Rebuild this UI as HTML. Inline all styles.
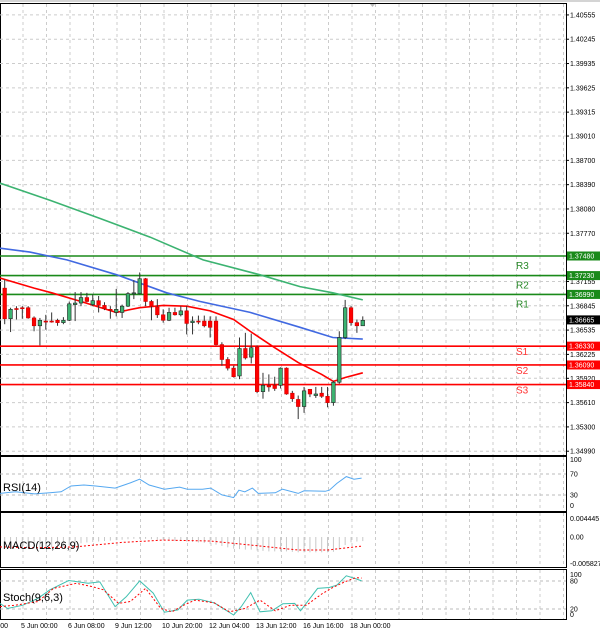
<!DOCTYPE html>
<html><head><meta charset="utf-8"><style>
body{margin:0;background:#fff;width:600px;height:635px;overflow:hidden}
svg{display:block;font-family:"Liberation Sans",sans-serif}
</style></head><body>
<svg id="c" width="600" height="635"></svg>
<script>
// ---- data ----
const priceTicks=[1.40555,1.40245,1.39935,1.39625,1.39315,1.39010,1.38700,1.38390,1.38080,1.37770,1.37155,1.36845,1.36535,1.36225,1.35920,1.35610,1.35300,1.34990];
const dateLabels=["-:00","5 Jun 00:00","6 Jun 08:00","9 Jun 12:00","10 Jun 20:00","12 Jun 04:00","13 Jun 12:00","16 Jun 16:00","18 Jun 00:00"];
const opens=[1.3707,1.3668,1.3681,1.3682,1.3682,1.3669,1.3659,1.3665,1.3665,1.3666,1.3663,1.3666,1.3686,1.3688,1.3695,1.3686,1.3691,1.3685,1.3680,1.3676,1.3676,1.3684,1.3700,1.3700,1.3719,1.3690,1.3683,1.3673,1.3666,1.3676,1.3673,1.3678,1.3663,1.3665,1.3665,1.3665,1.3665,1.3635,1.3616,1.3605,1.3595,1.3630,1.3619,1.3632,1.3575,1.3583,1.3583,1.3583,1.3605,1.3573,1.3565,1.3556,1.3578,1.3570,1.3573,1.3569,1.3561,1.3587,1.3644,1.3682,1.3663,1.3659];
const highs=[1.3718,1.3682,1.3684,1.3684,1.3684,1.3671,1.3669,1.3673,1.3676,1.3668,1.3670,1.3690,1.3702,1.3702,1.3701,1.3699,1.3697,1.3689,1.3684,1.3706,1.3686,1.3702,1.3717,1.3727,1.3720,1.3692,1.3693,1.3680,1.3682,1.3682,1.3684,1.3684,1.3671,1.3672,1.3672,1.3671,1.3671,1.3638,1.3619,1.3608,1.3644,1.3650,1.3649,1.3634,1.3599,1.3597,1.3594,1.3606,1.3606,1.3576,1.3570,1.3581,1.3578,1.3581,1.3581,1.3581,1.3589,1.3652,1.3692,1.3684,1.3667,1.3671];
const lows=[1.3661,1.3651,1.3667,1.3668,1.3668,1.3652,1.3634,1.3654,1.3663,1.3659,1.3661,1.3665,1.3665,1.3684,1.3689,1.3684,1.3676,1.3679,1.3668,1.3671,1.3669,1.3683,1.3693,1.3699,1.3684,1.3666,1.3669,1.3663,1.3665,1.3672,1.3671,1.3648,1.3648,1.3661,1.3657,1.3644,1.3634,1.3608,1.3602,1.3593,1.3591,1.3616,1.3611,1.3573,1.3566,1.3575,1.3576,1.3579,1.3571,1.3562,1.3540,1.3548,1.3568,1.3567,1.3567,1.3555,1.3557,1.3585,1.3642,1.3659,1.3650,1.3659];
const closes=[1.3668,1.3680,1.3680,1.3681,1.3669,1.3659,1.3666,1.3664,1.3664,1.3663,1.3666,1.3687,1.3688,1.3695,1.3690,1.3691,1.3685,1.3681,1.3679,1.3680,1.3684,1.3700,1.3701,1.3719,1.3690,1.3684,1.3673,1.3666,1.3676,1.3673,1.3678,1.3662,1.3665,1.3664,1.3659,1.3657,1.3635,1.3616,1.3605,1.3594,1.3630,1.3618,1.3631,1.3575,1.3583,1.3581,1.3579,1.3605,1.3572,1.3566,1.3556,1.3576,1.3572,1.3572,1.3569,1.3561,1.3587,1.3644,1.3682,1.3663,1.3659,1.3666];
const maRedIdx=[-0.8,5,8,13,19,23,27,31,35,39,42,46,50,54,56,58,61];
const maRedVal=[1.3720,1.3707,1.3701,1.3690,1.3676,1.3682,1.3685,1.3684,1.3678,1.3667,1.3651,1.3631,1.3612,1.3597,1.3588,1.3593,1.3599];
const maBlueIdx=[-0.8,4.3,10.6,19.1,27.6,33.3,41.8,50.3,55.9,61];
const maBlueVal=[1.3758,1.3753,1.3743,1.3724,1.3701,1.3690,1.3676,1.3657,1.3644,1.3642];
const maGreenIdx=[-0.8,7.7,16.2,24.8,33.8,43.5,50.3,55.9,61];
const maGreenVal=[1.3841,1.3819,1.3796,1.3772,1.3743,1.3724,1.3709,1.3701,1.3692];
const levelNames=["R3","R2","R1","S1","S2","S3"];
const levelVals=[1.37480,1.37230,1.36990,1.36330,1.36090,1.35840];
const currentPrice=1.36665;
const rsiIdx=[-0.8,1.8,5.1,7.7,9.6,11.3,13.5,15.5,18.8,21.4,23,24.6,27.2,29.8,31.1,33.7,35.1,37,39,39.9,40.9,42.2,43.2,46.1,47.3,50,51,54.6,55.3,56.6,58.2,59.5,60.8];
const rsiVal=[33,36,32,34,36,47,49,47,43,53,60,49,41,45,41,41,43,30,25,39,36,43,33,34,41,33,38,37,39,52,65,60,62];
const rsiTicks=[100,70,30,0];
const macdHist=[-0.0022,-0.0023,-0.0024,-0.0024,-0.0024,-0.0025,-0.0025,-0.0024,-0.0023,-0.0022,-0.0021,-0.0019,-0.0016,-0.0014,-0.0012,-0.0011,-0.0010,-0.0009,-0.0008,-0.0007,-0.0006,-0.0005,-0.0004,-0.0004,-0.0004,-0.0005,-0.0006,-0.0007,-0.0008,-0.0009,-0.0009,-0.0010,-0.0011,-0.0012,-0.0013,-0.0015,-0.0017,-0.0020,-0.0023,-0.0026,-0.0027,-0.0028,-0.0028,-0.0030,-0.0031,-0.0032,-0.0032,-0.0032,-0.0032,-0.0033,-0.0034,-0.0034,-0.0034,-0.0034,-0.0034,-0.0034,-0.0033,-0.0028,-0.0018,-0.0012,-0.0010,-0.0009];
const macdSigIdx=[-0.8,5,12,20,27,35,42,50,55,61];
const macdSigVal=[-0.0022,-0.0024,-0.0022,-0.0012,-0.0007,-0.0009,-0.0018,-0.0029,-0.0029,-0.0020];
const macdTicks=[0.004445,0,-0.005827];
const macdTickLabels=["0.004445","0.00","-0.005827"];
const stMainIdx=[-0.8,0.5,3.1,5.7,7.7,10.9,14.2,16.2,18.8,20.7,23,25.3,27.2,29.5,31.1,33.1,35.7,39,40.3,41.9,43.5,45.5,47.4,49.4,50.4,53.3,55.3,56.6,58.2,59.5,60.8];
const stMainVal=[32,21,28,43,61,81,75,78,25,46,80,54,13,18,39,41,33,7,25,55,14,16,31,32,16,64,66,71,91,86,80];
const stSigIdx=[-0.8,1.8,5.7,8.3,12.2,14.8,16.8,19.4,21.4,24,26.6,28.5,30.5,32.4,35.7,38.3,40.9,43.5,46.1,48.7,51.4,54,55.9,57.9,59.8,60.8];
const stSigVal=[25,28,36,64,75,68,61,32,36,64,21,14,28,39,33,14,21,39,16,28,28,52,66,78,87,86];
const stTicks=[100,80,20,0];

// ---- layout ----
const NS="http://www.w3.org/2000/svg";
const svg=document.getElementById('c');
function el(t,a,p){const e=document.createElementNS(NS,t);for(const k in a)e.setAttribute(k,a[k]);(p||svg).appendChild(e);return e;}
const AX=566, X0=4.7, DX=5.87;
const xi=i=>X0+DX*i;
const py=p=>256+(1.3748-p)*7840;
const ry=v=>510.7-v*0.525;
const my=v=>537-v*4500;
const sy=v=>618.3-v*0.467;

// frames
el('rect',{x:0.5,y:3.5,width:AX,height:452,fill:'none',stroke:'#000'});
el('rect',{x:0.5,y:456.5,width:AX,height:55,fill:'none',stroke:'#000'});
el('rect',{x:0.5,y:512.5,width:AX,height:55,fill:'none',stroke:'#000'});
el('rect',{x:0.5,y:569.5,width:AX,height:50,fill:'none',stroke:'#000'});
el('line',{x1:0,y1:1,x2:600,y2:1,stroke:'#aaa'});

// vertical grid
const vg=el('g',{stroke:'#ccc','stroke-dasharray':'3,3'});


for(let x=23;x<AX;x+=23.5){
  [[4,455],[457,511],[513,567],[570,619]].forEach(r=>el('line',{x1:x,y1:r[0],x2:x,y2:r[1]},vg));
}
// price grid & labels
const pg=el('g',{});


priceTicks.forEach(p=>{
  const y=py(p);
  if(y<452)el('line',{x1:0,y1:y,x2:AX,y2:y,stroke:'#ccc','stroke-dasharray':'3,3'},pg);
  el('line',{x1:AX,y1:y,x2:AX+3,y2:y,stroke:'#000'},pg);
  const t=el('text',{x:570,y:y+2.5,'font-size':7,fill:'#000'},pg);t.textContent=p.toFixed(5);
});
// dates
dateLabels.forEach((d,i)=>{
  const x=i==0?-4:(23+47*(i-1));
  const t=el('text',{x:i==0?-4:x-2,y:628,'font-size':7,fill:'#000'});
  
  
  t.textContent=d;
});
// levels
levelNames.forEach((n,i)=>{
  const v=levelVals[i],y=py(v),res=i<3,col=res?'#1a8a1a':'#f00';
  const g=el('g',{});
  
  
  el('line',{x1:0,y1:y,x2:AX,y2:y,stroke:col,'stroke-width':1.6},g);
  el('rect',{x:AX+1,y:y-4.5,width:33,height:9,fill:col},g);
  const t=el('text',{x:569,y:y+2.5,'font-size':7,fill:'#fff'},g);t.textContent=v.toFixed(5);
  const l=el('text',{x:516,y:res?y+13:y+9,'font-size':10,fill:res?'#2a8a2a':'#f33'},g);l.textContent=n;
});
// current price
{const y=py(currentPrice);
 const g=el('g',{});
 
 
 el('line',{x1:0,y1:y,x2:AX,y2:y,stroke:'#ddd'},g);
 el('rect',{x:AX+1,y:y-4.5,width:33,height:9,fill:'#000'},g);
 const t=el('text',{x:569,y:y+2.5,'font-size':7,fill:'#fff'},g);t.textContent=currentPrice.toFixed(5);}

function line(idx,val,f,attrs,name){
  const pts=idx.map((i,k)=>xi(i).toFixed(1)+','+f(val[k]).toFixed(1)).join(' ');
  const e=el('polyline',Object.assign({points:pts,fill:'none'},attrs));
  
  
  return e;
}
line(maGreenIdx,maGreenVal,py,{stroke:'#3cb371','stroke-width':1.6},'ma-green');
line(maBlueIdx,maBlueVal,py,{stroke:'#4169e1','stroke-width':1.6},'ma-blue');
line(maRedIdx,maRedVal,py,{stroke:'#f00','stroke-width':1.6},'ma-red');

// candles
opens.forEach((o,i)=>{
  const c=closes[i],x=xi(i),up=c>=o;
  const g=el('g',{});
  
  
  el('line',{x1:x,y1:py(highs[i]),x2:x,y2:py(lows[i]),stroke:'#333','stroke-width':1},g);
  const t=py(Math.max(o,c)),b=py(Math.min(o,c));
  el('rect',{x:x-1.8,y:t,width:3.6,height:Math.max(b-t,1),fill:up?'#3cb371':'#f00',stroke:up?'#222':'#c00','stroke-width':0.6},g);
});
// shift marker
el('path',{d:'M370,4 L375,4 L372.5,7 Z',fill:'#bbb'});

// RSI
rsiTicks.forEach(v=>{const y=ry(v);
  if(v==70||v==30)el('line',{x1:0,y1:y,x2:AX,y2:y,stroke:'#bbb','stroke-dasharray':'3,3'});
  const t=el('text',{x:570,y:(v==100?462:v==0?508:y+2.5),'font-size':7});t.textContent=v;});
line(rsiIdx,rsiVal,ry,{stroke:'#55a8f0','stroke-width':1},'rsi-line');
{const t=el('text',{x:3,y:491,'font-size':11});t.textContent='RSI(14)';
 }

// MACD
macdHist.forEach((v,i)=>{const x=xi(i);
  const b=el('line',{x1:x,y1:my(0),x2:x,y2:my(v),stroke:'#c8c8c8','stroke-width':1});
  
  
});
line(macdSigIdx,macdSigVal,my,{stroke:'#f00','stroke-width':1,'stroke-dasharray':'2,2'},'macd-signal');
macdTicks.forEach((v,k)=>{const t=el('text',{x:570,y:(k==0?521:k==2?566:my(v)+2.5),'font-size':7});t.textContent=macdTickLabels[k];});
{const t=el('text',{x:3,y:549,'font-size':11});t.textContent='MACD(12,26,9)';
 }

// Stoch
stTicks.forEach(v=>{const y=sy(v);
  if(v==80||v==20)el('line',{x1:0,y1:y,x2:AX,y2:y,stroke:'#bbb','stroke-dasharray':'3,3'});
  const t=el('text',{x:570,y:(v==100?577:v==0?617:y+2.5),'font-size':7});t.textContent=v;});
line(stMainIdx,stMainVal,sy,{stroke:'#40c0b0','stroke-width':1},'stoch-main');
line(stSigIdx,stSigVal,sy,{stroke:'#f00','stroke-width':1,'stroke-dasharray':'2,2'},'stoch-signal');
{const t=el('text',{x:3,y:601,'font-size':11});t.textContent='Stoch(9,6,3)';
 }
</script>
</body></html>
